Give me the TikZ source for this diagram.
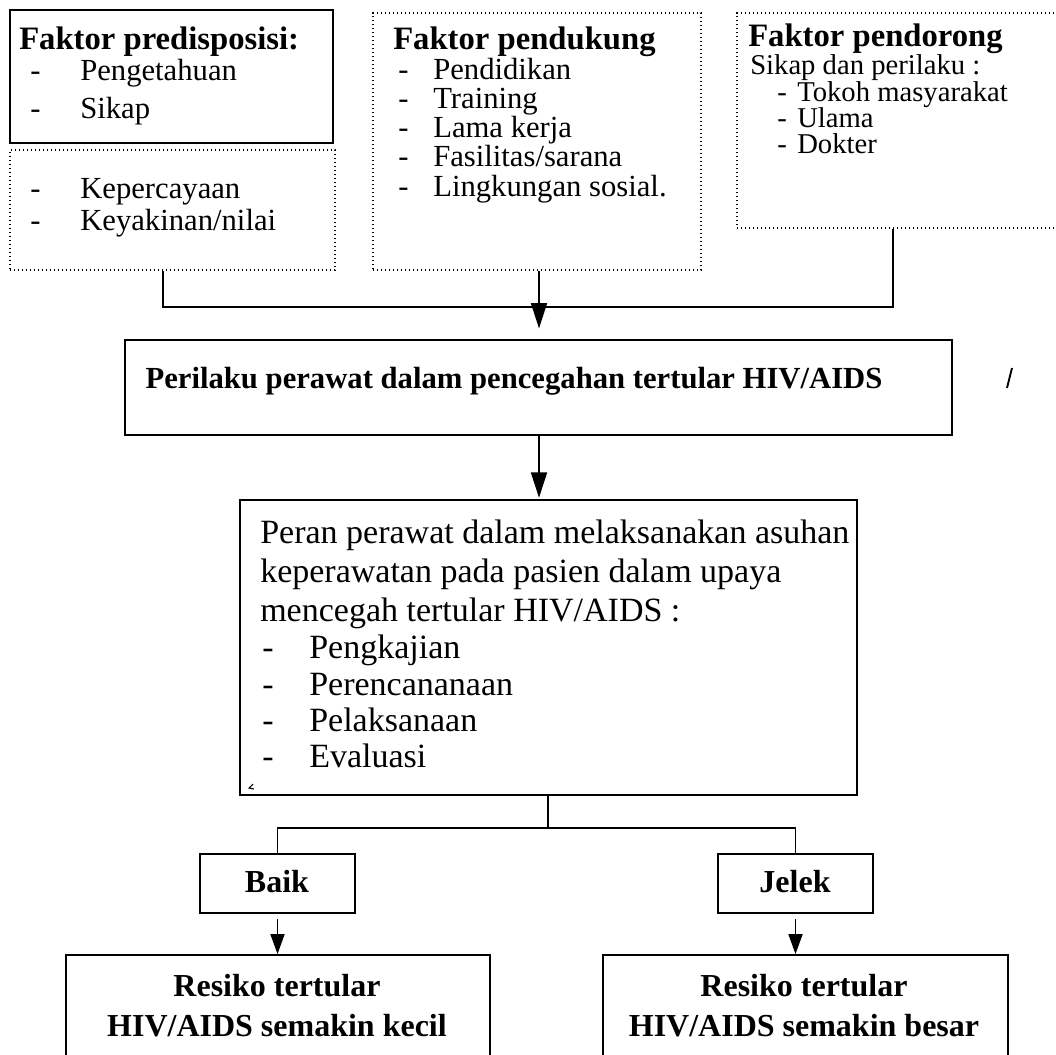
\documentclass[tikz,border=0pt]{standalone}
\usepackage{fontspec}
\setmainfont{Liberation Serif}
\usetikzlibrary{fit,arrows.meta}
\newcommand{\ftop}{\fontsize{23pt}{26pt}\selectfont}
\newcommand{\fsmall}{\fontsize{21.5pt}{24pt}\selectfont}
\newcommand{\ftitle}{\fontsize{24.5pt}{27pt}\selectfont}
\newcommand{\fmid}{\fontsize{25.5pt}{28pt}\selectfont}
\newcommand{\fbot}{\fontsize{24pt}{27pt}\selectfont}
\begin{document}
\begin{tikzpicture}[x=0.75pt,y=-0.75pt,
  solidbox/.style={draw, line width=1.4pt, inner sep=0pt},
  dotbox/.style={draw, dotted, line width=1pt, inner sep=0pt},
  conn/.style={line width=1.3pt},
  bigarr/.style={conn, -{Triangle[length=19pt,width=12pt]}},
  smallarr/.style={conn, -{Triangle[length=15pt,width=10.5pt]}},
  txt/.style={anchor=base west, inner sep=0pt, font=\ftop},
  stxt/.style={anchor=base west, inner sep=0pt, font=\fsmall},
  txtb/.style={anchor=base west, inner sep=0pt, font=\ftitle\bfseries},
  ptxt/.style={anchor=base west, inner sep=0pt, font=\fmid},
  ctxt/.style={anchor=base, inner sep=0pt, font=\fbot\bfseries},
]
\fill[white] (0,0) rectangle (1056,1054);
\useasboundingbox (0,0) rectangle (1056,1054);

% ---- top boxes
\node[solidbox, fit={(10,10) (333,143)}] (b1) {};
\node[dotbox, fit={(10,150) (335,270)}] (b1b) {};
\node[dotbox, fit={(373,13) (701,270)}] (b2) {};
\node[dotbox, fit={(737,13) (1070,228)}] (b3) {};

% box 1 text
\node[txtb] (t1) at (19,49) {Faktor predisposisi:};
\node[txt] (t1d1) at (30,80) {-};  \node[txt] (t1i1) at (80,80) {Pengetahuan};
\node[txt] (t1d2) at (30,118) {-}; \node[txt] (t1i2) at (80,118) {Sikap};
\node[txt] (t1d3) at (30,198) {-}; \node[txt] (t1i3) at (80,198) {Kepercayaan};
\node[txt] (t1d4) at (30,230) {-}; \node[txt] (t1i4) at (80,230) {Keyakinan/nilai};

% box 2 text
\node[txtb] (t2) at (393,49) {Faktor pendukung};
\node[txt] (t2d1) at (398,79) {-};  \node[txt] (t2i1) at (433,79) {Pendidikan};
\node[txt] (t2d2) at (398,108) {-}; \node[txt] (t2i2) at (433,108) {Training};
\node[txt] (t2d3) at (398,137) {-}; \node[txt] (t2i3) at (433,137) {Lama kerja};
\node[txt] (t2d4) at (398,166) {-}; \node[txt] (t2i4) at (433,166) {Fasilitas/sarana};
\node[txt] (t2d5) at (398,196) {-}; \node[txt] (t2i5) at (433,196) {Lingkungan sosial.};

% box 3 text
\node[txtb] (t3) at (748,46) {Faktor pendorong};
\node[stxt] (t3s) at (750,74) {Sikap dan perilaku :};
\node[stxt] (t3d1) at (777,101) {-};  \node[stxt] (t3i1) at (797,101) {Tokoh masyarakat};
\node[stxt] (t3d2) at (777,127) {-}; \node[stxt] (t3i2) at (797,127) {Ulama};
\node[stxt] (t3d3) at (777,153) {-}; \node[stxt] (t3i3) at (797,153) {Dokter};

% ---- middle
\node[solidbox, fit={(125,340) (952,435)}] (per) {};
\node[anchor=base, inner sep=0pt, font=\ftop\bfseries] (pert) at (514,388) {Perilaku perawat dalam pencegahan tertular HIV/AIDS};

\node[solidbox, fit={(240,500) (857,795)}] (peran) {};
\node[ptxt] (p1) at (260,543) {Peran perawat dalam melaksanakan asuhan};
\node[ptxt] (p2) at (260,582) {keperawatan pada pasien dalam upaya};
\node[ptxt] (p3) at (260,621) {mencegah tertular HIV/AIDS :};
\node[ptxt] (pd1) at (262,658) {-}; \node[ptxt] (pi1) at (309,658) {Pengkajian};
\node[ptxt] (pd2) at (262,695) {-}; \node[ptxt] (pi2) at (309,695) {Perencananaan};
\node[ptxt] (pd3) at (262,731) {-}; \node[ptxt] (pi3) at (309,731) {Pelaksanaan};
\node[ptxt] (pd4) at (262,767) {-}; \node[ptxt] (pi4) at (309,767) {Evaluasi};

% ---- bottom
\node[solidbox, fit={(200,854) (355,913)}] (baik) {};
\node[ctxt] (baikt) at (277,892) {Baik};
\node[solidbox, fit={(718,854) (873,913)}] (jelek) {};
\node[ctxt] (jelekt) at (795,892) {Jelek};
\node[solidbox, fit={(66,955) (490,1080)}] (r1) {};
\node[ctxt] (r1a) at (277,996) {Resiko tertular};
\node[ctxt] (r1b) at (277,1036) {HIV/AIDS semakin kecil};
\node[solidbox, fit={(603,955) (1008,1080)}] (r2) {};
\node[ctxt] (r2a) at (804,996) {Resiko tertular};
\node[ctxt] (r2b) at (804,1036) {HIV/AIDS semakin besar};

% ---- connectors
\coordinate (jl) at (163,307);
\coordinate (jm) at (539,307);
\coordinate (jr) at (893,307);
\draw[conn] (jl |- b1b.south) -- (jl) -- (jr) -- (jr |- b3.south);
\draw[conn] (jm |- b2.south) -- (jm);
\draw[bigarr, shorten >=8pt] (jm) -- (jm |- per.north);
\coordinate (pm) at (539,435);
\draw[bigarr, shorten >=1pt] (pm) -- (pm |- peran.north);
\coordinate (bm) at (548,828);
\draw[conn] (bm |- peran.south) -- (bm);
\draw[conn] (baik.north) |- (bm) -| (jelek.north);
\draw[smallarr, shorten <=4pt] (baik.south) -- (baik.south |- r1.north);
\draw[smallarr, shorten <=4pt] (jelek.south) -- (jelek.south |- r2.north);

% scan marks
\draw[line width=1.4pt] (1012,368) -- (1007,388);
\draw[line width=0.8pt] (253,784) -- (249,788) -- (254,789);
\end{tikzpicture}
\end{document}
